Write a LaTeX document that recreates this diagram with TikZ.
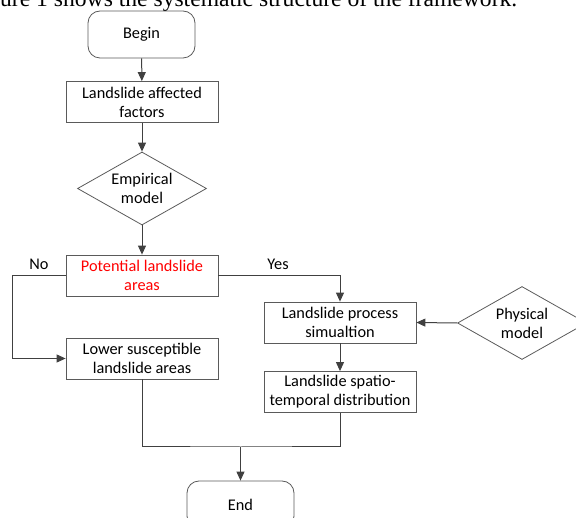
\documentclass[tikz,border=0pt]{standalone}
\usepackage{fontspec}
\setmainfont{Carlito}
\newfontfamily\captionserif{Liberation Serif}
\usetikzlibrary{shapes.geometric,arrows.meta}
\definecolor{linegray}{HTML}{404040}
\definecolor{boxgray}{HTML}{5A5A5A}

\begin{document}
\begin{tikzpicture}[x=1pt,y=-1pt,
    every node/.style={font=\fontsize{16.3}{19}\selectfont},
    proc/.style={draw=boxgray,line width=0.8pt,minimum width=152pt,minimum height=41pt,inner sep=0pt,align=center},
    term/.style={draw=boxgray,line width=0.8pt,rounded corners=12pt,minimum width=107pt,minimum height=47pt,inner sep=0pt},
    decide/.style={draw=boxgray,line width=0.8pt,diamond,aspect=1.77,minimum width=129pt,minimum height=73pt,inner sep=0pt,align=center},
    arr/.style={draw=linegray,line width=1pt,-{Triangle[length=9pt,width=8pt]}},
    wire/.style={draw=linegray,line width=1pt}]
      \useasboundingbox (0,0) rectangle (576,518);
      \clip (0,0) rectangle (576,518);
      \node[anchor=base west,inner sep=0pt,font=\captionserif\fontsize{23.6}{27}\selectfont] (caption) at (0,7)
      {ure 1 shows the systematic structure of the framework.};
      \node[term] (begin) at (141.5,34.5) {Begin};
      \node[proc] (laf) at (142,102) {Landslide affected\\factors};
      \node[decide] (emp) at (142,188.5) {Empirical\\model};
      \node[proc] (pot) at (142,275.5) {\color{red}Potential landslide\\\color{red}areas};
      \node[proc] (low) at (142,358.5) {Lower susceptible\\landslide areas};
      \node[proc] (lps) at (340,322.5) {Landslide process\\simualtion};
      \node[decide] (phy) at (522,323) {Physical\\model};
      \node[proc] (lsd) at (340,392) {Landslide spatio-\\temporal distribution};
      \node[term] (endn) at (240.5,504.5) {End};
      \node (no) at (39,264) {No};
      \node (yes) at (278,264) {Yes};
      \coordinate (nobend) at (12,275.5);
      \coordinate (join) at (240.5,447);
      \draw[arr] (begin) -- (laf);
      \draw[arr] (laf) -- (emp);
      \draw[arr] (emp) -- (pot);
      \draw[arr] (pot.west) -- (nobend) |- (low.west);
      \draw[arr] (pot.east) -| (lps.north);
      \draw[arr] (phy.west) -- (lps.east);
      \draw[arr] (lps) -- (lsd);
      \draw[wire] (low.south) |- (join) -| (lsd.south);
      \draw[arr] (join) -- (endn);
    \end{tikzpicture}
\end{document}
